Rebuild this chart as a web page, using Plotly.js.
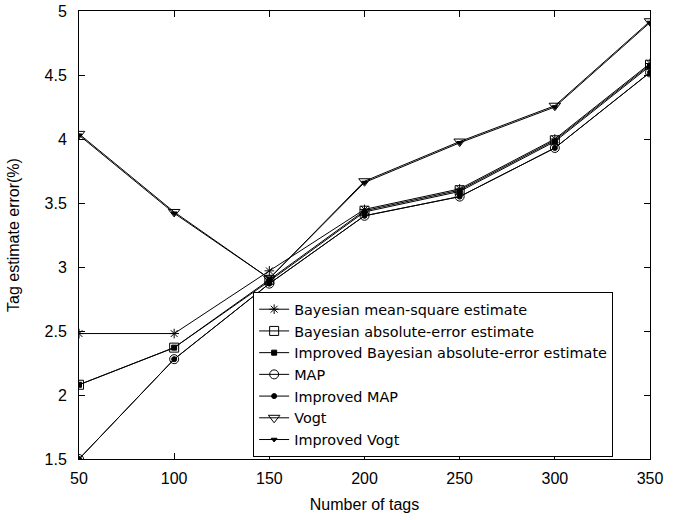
<!DOCTYPE html>
<html>
<head>
<meta charset="utf-8">
<script src="https://cdn.plot.ly/plotly-3.0.1.min.js"></script>
<style>html,body{margin:0;padding:0;background:#fff;}#chart{width:678px;height:520px;}</style>
</head>
<body>
<div id="chart"></div>
<script>
const tags = [50, 100, 150, 200, 250, 300, 350];
const bayesMeanSquare = [2.48, 2.48, 2.97, 3.45, 3.61, 4.00, 4.59];
const bayesAbsError = [2.08, 2.37, 2.90, 3.44, 3.60, 3.99, 4.58];
const improvedBayesAbsError = [2.08, 2.37, 2.89, 3.43, 3.59, 3.98, 4.57];
const mapEst = [1.50, 2.28, 2.87, 3.40, 3.55, 3.93, 4.52];
const improvedMap = [1.50, 2.28, 2.87, 3.40, 3.55, 3.93, 4.52];
const vogt = [4.04, 3.43, 2.91, 3.67, 3.98, 4.26, 4.92];
const improvedVogt = [4.03, 3.42, 2.91, 3.66, 3.97, 4.25, 4.91];
const xTicks = [50, 100, 150, 200, 250, 300, 350];
const yTicks = [1.5, 2, 2.5, 3, 3.5, 4, 4.5, 5];

const series = [
  {name: 'Bayesian mean-square estimate', y: bayesMeanSquare, symbol: 'asterisk-open', size: 8},
  {name: 'Bayesian absolute-error estimate', y: bayesAbsError, symbol: 'square-open', size: 9},
  {name: 'Improved Bayesian absolute-error estimate', y: improvedBayesAbsError, symbol: 'square', size: 5},
  {name: 'MAP', y: mapEst, symbol: 'circle-open', size: 9},
  {name: 'Improved MAP', y: improvedMap, symbol: 'circle', size: 5},
  {name: 'Vogt', y: vogt, symbol: 'triangle-down-open', size: 10},
  {name: 'Improved Vogt', y: improvedVogt, symbol: 'triangle-down', size: 5}
];

const traces = series.map(s => ({
  x: tags, y: s.y, name: s.name, type: 'scatter', mode: 'lines+markers',
  line: {color: '#000', width: 1},
  marker: {symbol: s.symbol, size: s.size, color: '#000', line: {color: '#000', width: 1}}
}));

const layout = {
  width: 678, height: 520,
  margin: {l: 79, r: 28, t: 11, b: 61},
  paper_bgcolor: '#fff', plot_bgcolor: '#fff',
  font: {family: 'Liberation Sans, Arial, sans-serif', color: '#000', size: 14},
  showlegend: true,
  legend: {
    x: 0.305, y: 0.372, xanchor: 'left', yanchor: 'top',
    bgcolor: '#fff', bordercolor: '#000', borderwidth: 1,
    font: {size: 14.4, family: 'DejaVu Sans, sans-serif'},
    tracegroupgap: 0, itemwidth: 30
  },
  xaxis: {
    range: [50, 350], tickvals: xTicks, ticktext: xTicks.map(String),
    ticks: 'inside', ticklen: 6, tickcolor: '#000', showline: true, linecolor: '#000', linewidth: 1,
    mirror: 'ticks', showgrid: false, zeroline: false,
    tickfont: {size: 16}, ticklabelstandoff: 5,
    title: {text: 'Number of tags', font: {size: 16}, standoff: 12}
  },
  yaxis: {
    range: [1.5, 5], tickvals: yTicks, ticktext: yTicks.map(String),
    ticks: 'inside', ticklen: 6, tickcolor: '#000', showline: true, linecolor: '#000', linewidth: 1,
    mirror: 'ticks', showgrid: false, zeroline: false,
    tickfont: {size: 16}, ticklabelstandoff: 8,
    title: {text: 'Tag estimate error(%)', font: {size: 16}, standoff: 20}
  }
};

Plotly.newPlot('chart', traces, layout, {displayModeBar: false, staticPlot: true});
</script>
</body>
</html>
